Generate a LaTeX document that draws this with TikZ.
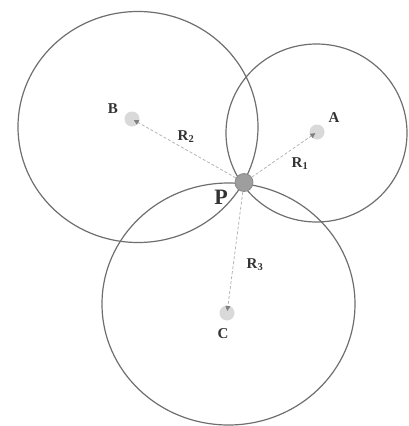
\documentclass[tikz,border=0pt]{standalone}
\usepackage{fontspec}
\setmainfont{Liberation Serif}
\usepackage{tikz}
\usetikzlibrary{arrows.meta}
\usepackage{xcolor}
\definecolor{ringgray}{HTML}{6E6E6E}
\definecolor{dotgray}{HTML}{D9D9D9}
\definecolor{raygray}{HTML}{B4B4B4}
\definecolor{pgray}{HTML}{9E9E9E}
\definecolor{inkgray}{HTML}{333333}

\begin{document}
\begin{tikzpicture}[x=1pt,y=-1pt,
    ring/.style={draw=ringgray,line width=1.2pt},
    beacon/.style={circle,fill=dotgray,inner sep=0pt,minimum size=15pt},
    ray/.style={draw=raygray,line width=0.8pt,dash pattern=on 3pt off 2pt,
      -{Triangle[length=5pt,width=5pt,color=gray]},shorten >=2pt},
    lbl/.style={text=inkgray,font=\bfseries\fontsize{15}{15}\selectfont}]
  \useasboundingbox (0,0) rectangle (408,426);
  % los tres circulos que se cortan en P
  \draw[ring] (138,127) ellipse [x radius=120pt,y radius=115.5pt];
  \draw[ring] (316.5,133) ellipse [x radius=90.5pt,y radius=89pt];
  \draw[ring] (228.5,304) ellipse [x radius=126.5pt,y radius=121pt];
  % centros
  \node[beacon] (A) at (317,132) {};
  \node[beacon] (B) at (132,119) {};
  \node[beacon] (C) at (227,313) {};
  % punto comun P
  \node[circle,fill=pgray,draw=ringgray!80,line width=0.8pt,minimum size=18pt,inner sep=0pt] (P) at (244,182.5) {};
  % radios
  \foreach \c in {A,B,C}{
    \draw[ray] (P) -- (\c.center);
  }
  % etiquetas
  \node[lbl] (labA) at (334,118) {A};
  \node[lbl] (labB) at (113,109) {B};
  \node[lbl] (labC) at (223,334) {C};
  \node[lbl] (labR1) at (300,164) {R\textsubscript{1}};
  \node[lbl] (labR2) at (186,137) {R\textsubscript{2}};
  \node[lbl] (labR3) at (255,265) {R\textsubscript{3}};
  \node[text=inkgray,font=\bfseries\fontsize{22}{22}\selectfont] (labP) at (221,197) {P};
\end{tikzpicture}
\end{document}
